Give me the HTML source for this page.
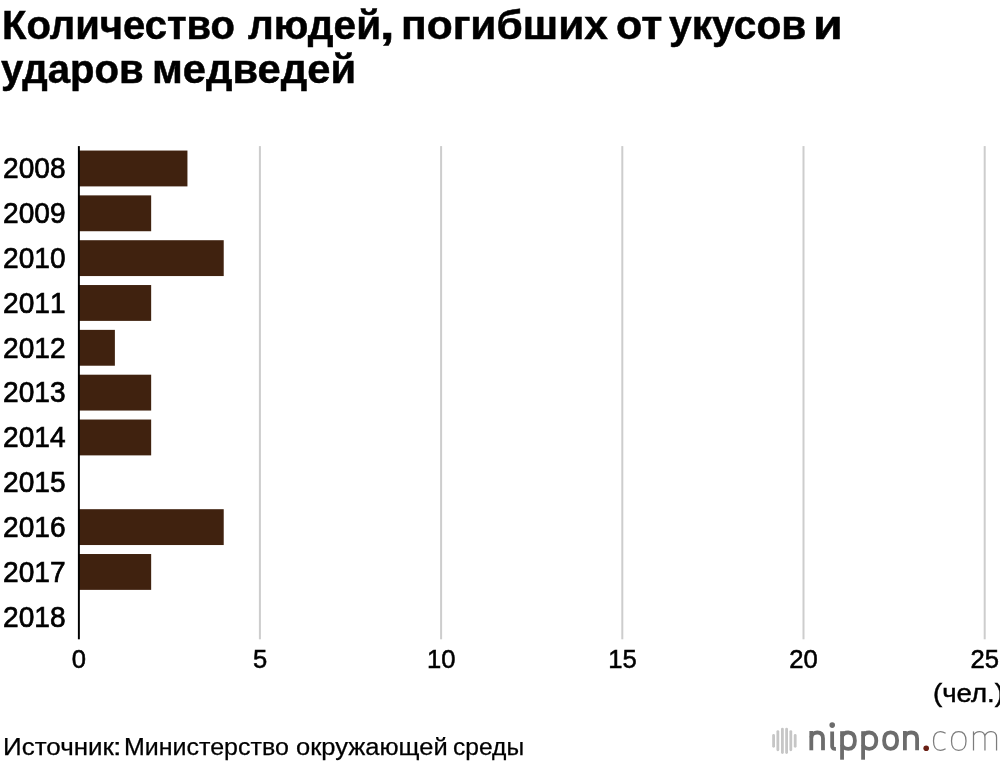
<!DOCTYPE html>
<html><head><meta charset="utf-8"><style>
html,body{margin:0;padding:0;background:#fff;}
body{width:1000px;height:762px;position:relative;overflow:hidden;font-family:"Liberation Sans",sans-serif;color:#000;}
.abs{position:absolute;white-space:nowrap;}
.w{position:absolute;white-space:nowrap;transform-origin:0 0;display:block;}
.title{font-weight:bold;font-size:40px;line-height:44px;-webkit-text-stroke:0.5px #000;}
.src{font-size:23.5px;line-height:30px;-webkit-text-stroke:0.25px #000;}
.yl{left:-2.3px;width:67.5px;text-align:right;font-size:28.5px;line-height:30px;height:30px;font-kerning:none;-webkit-text-stroke:0.7px #000;transform:scale(0.985,1.04);transform-origin:right center;}
.tl{font-size:25.6px;line-height:30px;height:30px;width:80px;text-align:center;top:643.6px;font-kerning:none;-webkit-text-stroke:0.55px #000;}
.bar{background:#40220f;height:35.7px;}
.grid{background:#cecece;width:2px;top:146px;height:493.3px;}
</style></head><body><div id="root" style="position:absolute;left:0;top:0;width:1000px;height:762px;will-change:transform;">
<div class="w title" style="left:1.60px;top:3.00px;transform:scaleX(0.9996)">Количество</div>
<div class="w title" style="left:248.00px;top:3.00px;transform:scaleX(1.0136)">людей</div>
<div class="w title" style="left:379.60px;top:3.00px;transform:scaleX(1.3000)">,</div>
<div class="w title" style="left:401.31px;top:3.00px;transform:scaleX(1.0628)">погибших</div>
<div class="w title" style="left:615.85px;top:3.00px;transform:scaleX(1.0750)">от</div>
<div class="w title" style="left:668.98px;top:3.00px;transform:scaleX(1.0189)">укусов</div>
<div class="w title" style="left:813.37px;top:3.00px;transform:scaleX(1.2105)">и</div>
<div class="w title" style="left:0.60px;top:46.80px;transform:scaleX(1.0029)">ударов</div>
<div class="w title" style="left:151.87px;top:46.80px;transform:scaleX(1.0421)">медведей</div>
<svg class="abs" style="left:0;top:140px" width="1000" height="510" viewBox="0 140 1000 510"><rect x="258.90" y="146.1" width="2" height="493.2" fill="#cdcdcd"/><rect x="440.10" y="146.1" width="2" height="493.2" fill="#cdcdcd"/><rect x="621.30" y="146.1" width="2" height="493.2" fill="#cdcdcd"/><rect x="802.50" y="146.1" width="2" height="493.2" fill="#cdcdcd"/><rect x="983.70" y="146.1" width="2" height="493.2" fill="#cdcdcd"/><rect x="79" y="150.55" width="108.44" height="35.85" fill="#40220f"/><rect x="79" y="195.38" width="72.16" height="35.85" fill="#40220f"/><rect x="79" y="240.21" width="144.72" height="35.85" fill="#40220f"/><rect x="79" y="285.04" width="72.16" height="35.85" fill="#40220f"/><rect x="79" y="329.87" width="35.88" height="35.85" fill="#40220f"/><rect x="79" y="374.70" width="72.16" height="35.85" fill="#40220f"/><rect x="79" y="419.53" width="72.16" height="35.85" fill="#40220f"/><rect x="79" y="509.19" width="144.72" height="35.85" fill="#40220f"/><rect x="79" y="554.02" width="72.16" height="35.85" fill="#40220f"/><rect x="77.9" y="146.1" width="1.95" height="493.2" fill="#000"/></svg>
<div class="abs yl" style="top:153.31px">2008</div>
<div class="abs yl" style="top:198.14px">2009</div>
<div class="abs yl" style="top:242.97px">2010</div>
<div class="abs yl" style="top:287.80px">2011</div>
<div class="abs yl" style="top:332.62px">2012</div>
<div class="abs yl" style="top:377.45px">2013</div>
<div class="abs yl" style="top:422.28px">2014</div>
<div class="abs yl" style="top:467.10px">2015</div>
<div class="abs yl" style="top:511.93px">2016</div>
<div class="abs yl" style="top:556.76px">2017</div>
<div class="abs yl" style="top:601.59px">2018</div>
<div class="abs tl" style="left:38.8px">0</div>
<div class="abs tl" style="left:220.0px">5</div>
<div class="abs tl" style="left:401.2px">10</div>
<div class="abs tl" style="left:582.4px">15</div>
<div class="abs tl" style="left:763.6px">20</div>
<div class="abs tl" style="left:944.8px">25</div>
<div class="w" id="unit" style="left:933.09px;top:677.5px;font-size:25.5px;line-height:30px;-webkit-text-stroke:0.45px #000;transform:scaleX(1.0821)">(чел.)</div>
<div class="w src" style="left:2.79px;top:731.60px;transform:scaleX(1.1051)">Источник</div>
<div class="w src" style="left:112.60px;top:731.60px;transform:scaleX(1.3000)">:</div>
<div class="w src" style="left:124.27px;top:731.60px;transform:scaleX(1.0632)">Министерство</div>
<div class="w src" style="left:295.92px;top:731.60px;transform:scaleX(1.0847)">окружающей</div>
<div class="w src" style="left:452.55px;top:731.60px;transform:scaleX(1.0462)">среды</div>
<svg class="abs" style="left:760px;top:712px" width="240" height="50" viewBox="760 712 240 50">
<g stroke="#c6c6c6" stroke-width="2.8" stroke-linecap="round" fill="none">
<line x1="773.6" y1="735.4" x2="773.6" y2="746.3"/>
<line x1="777.85" y1="731.6" x2="777.85" y2="749.8"/>
<line x1="782.4" y1="729.1" x2="782.4" y2="752.5"/>
<line x1="786.6" y1="729.1" x2="786.6" y2="752.5"/>
<line x1="790.8" y1="731.6" x2="790.8" y2="749.8"/>
<line x1="795.2" y1="735.4" x2="795.2" y2="746.3"/>
</g>
<g stroke="#6c6c6c" stroke-width="3.8" fill="none" stroke-linecap="butt" stroke-linejoin="round">
<!-- n -->
<path d="M811.3 750.3 V731"/>
<path d="M811.3 737.5 C811.6 734.2 814.3 732.5 817.3 732.5 C821 732.5 823 734.6 823 738.6 V750.3"/>
<!-- i -->
<path d="M832.15 731.4 V746.3 C832.15 748.4 833.2 748.9 835.9 748.8"/>
<!-- p -->
<path d="M842.05 731.2 V759.7"/>
<path d="M842.05 736.5 C842.8 734 845.4 732.5 848.2 732.5 C852.6 732.5 854.9 735.6 854.9 740.65 C854.9 745.7 852.6 748.8 848.2 748.8 C845.4 748.8 842.8 747.3 842.05 744.8"/>
<!-- p -->
<path d="M863.1 731.2 V759.7"/>
<path d="M863.1 736.5 C863.85 734 866.45 732.5 869.25 732.5 C873.65 732.5 876.3 735.6 876.3 740.65 C876.3 745.7 873.65 748.8 869.25 748.8 C866.45 748.8 863.85 747.3 863.1 744.8"/>
<!-- o -->
<path d="M884.10 740.60 C884.10 735.12 886.31 732.30 890.60 732.30 C894.89 732.30 897.10 735.12 897.10 740.60 C897.10 746.08 894.89 748.90 890.60 748.90 C886.31 748.90 884.10 746.08 884.10 740.60 Z"/>
<!-- n -->
<path d="M904.9 750.3 V731"/>
<path d="M904.9 737.5 C905.2 734.2 907.9 732.5 911.1 732.5 C915 732.5 917.1 734.6 917.1 738.6 V750.3"/>
</g>
<circle cx="832.2" cy="725.1" r="2.8" fill="#6c6c6c"/>
<circle cx="926.2" cy="748.2" r="2.8" fill="#6a1f14"/>
<g stroke="#7c7c7c" stroke-width="1.25" fill="none" stroke-linecap="butt">
<path d="M945.6 733.2 C943.8 732.1 942.2 731.6 940.4 731.6 C935.2 731.6 933.5 735 933.5 741 C933.5 747 935.2 750.3 940.4 750.3 C942.2 750.3 943.8 749.9 945.6 748.8"/>
<path d="M951.50 740.95 C951.50 734.78 953.97 731.60 958.75 731.60 C963.53 731.60 966.00 734.78 966.00 740.95 C966.00 747.12 963.53 750.30 958.75 750.30 C953.97 750.30 951.50 747.12 951.50 740.95 Z"/>
<path d="M973.5 731.4 V750.5"/>
<path d="M973.5 735.2 C975 732.6 977.4 731.6 979.5 731.6 C983 731.6 984.95 733.5 984.95 737.5 V750.5"/>
<path d="M984.95 735.4 C986.5 732.7 988.8 731.6 991 731.6 C994.6 731.6 996.55 733.5 996.55 737.5 V750.5"/>
</g>
</svg>
</div></body></html>
